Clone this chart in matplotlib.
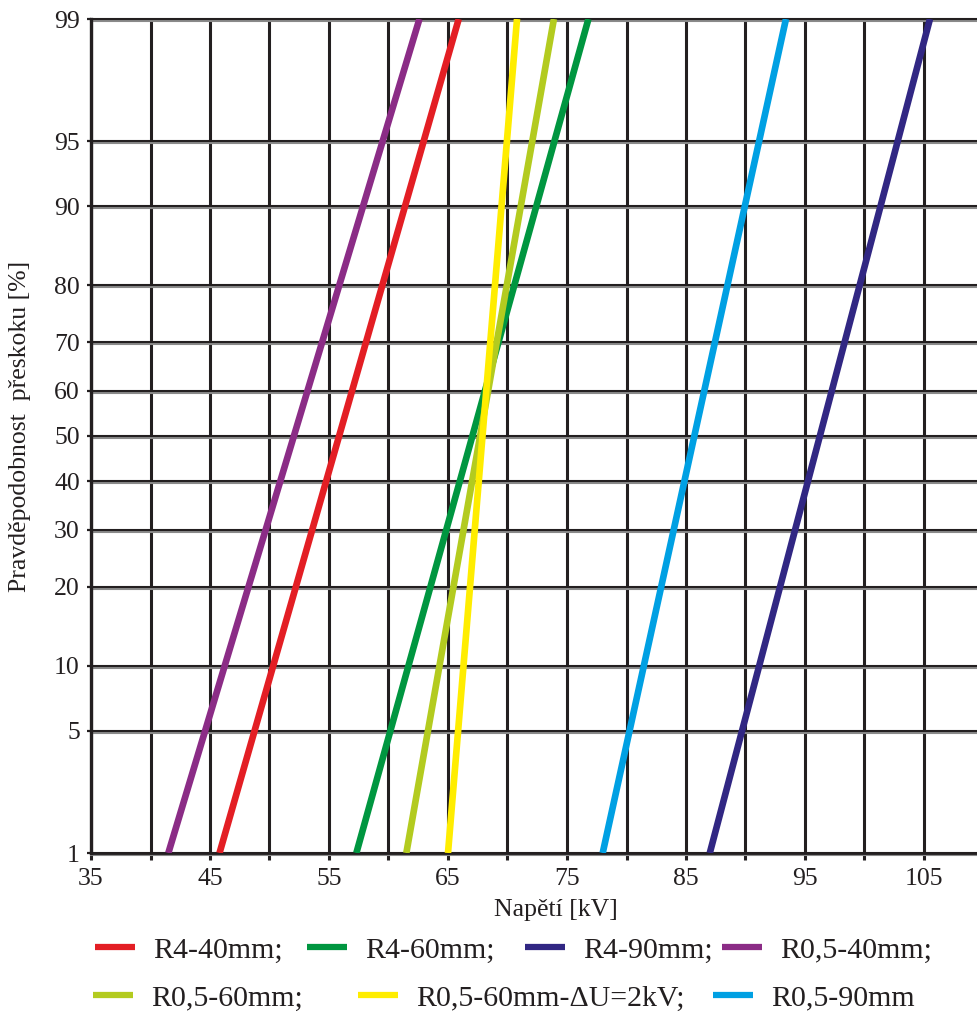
import numpy as np
import matplotlib
matplotlib.use("Agg")
import matplotlib.pyplot as plt
import matplotlib.patheffects as pe
from matplotlib.ticker import FixedLocator, NullLocator
from statistics import NormalDist

plt.rcParams['font.family'] = ['Liberation Serif', 'DejaVu Serif']

# voltage (kV) where each line reaches 1 % and 99 % flashover probability
labels = ['R4-40mm;', 'R4-60mm;', 'R4-90mm;', 'R0,5-40mm;',
          'R0,5-60mm;', 'R0,5-60mm-\u0394U=2kV;', 'R0,5-90mm']
colors = ['#e31e24', '#009640', '#312783', '#8b2c86',
          '#b3cb1f', '#ffed00', '#00a0e3']
u_at_1 = [45.8, 57.3, 87.0, 41.5, 61.5, 65.0, 78.0]
u_at_99 = [65.9, 76.8, 105.5, 62.6, 73.9, 70.8, 93.4]
prob_pts = [1, 99]

prob_ticks = [1, 5, 10, 20, 30, 40, 50, 60, 70, 80, 90, 95, 99]
u_major = [35, 45, 55, 65, 75, 85, 95, 105]
u_minor = [40, 50, 60, 70, 80, 90, 100]

nd = NormalDist()
_ppf = np.vectorize(nd.inv_cdf, otypes=[float])
_cdf = np.vectorize(nd.cdf, otypes=[float])


def fwd(p):
    p = np.clip(np.asarray(p, dtype=float) / 100.0, 1e-9, 1 - 1e-9)
    return _ppf(p)


def inv(z):
    return 100.0 * _cdf(np.asarray(z, dtype=float))


W, H = 978, 1015
fig = plt.figure(figsize=(W / 100, H / 100), dpi=100)
ax = fig.add_axes([91 / W, 1 - 853 / H, 1 - 91 / W, (853 - 19) / H])

for lab, col, u1, u99 in zip(labels, colors, u_at_1, u_at_99):
    ax.plot([u1, u99], prob_pts, color=col, lw=4.8, solid_capstyle='butt',
            label=lab, zorder=3)

ax.set_yscale('function', functions=(fwd, inv))
ax.set_ylim(1, 99)
ax.set_xlim(35, 35 + (W - 91) / 11.9)

ax.yaxis.set_major_locator(FixedLocator(prob_ticks))
ax.yaxis.set_minor_locator(NullLocator())
ax.set_yticklabels([str(t) for t in prob_ticks])
ax.xaxis.set_major_locator(FixedLocator(u_major))
ax.xaxis.set_minor_locator(FixedLocator(u_minor))

dark = '#231f20'
ax.tick_params(axis='both', which='both', direction='out', color=dark,
               labelsize=18.5, labelcolor=dark)
ax.tick_params(axis='x', which='both', length=5, width=2.2, pad=6)
ax.tick_params(axis='y', length=3, width=1.6, pad=5)

ax.grid(axis='x', which='both', color=dark, lw=2.2, zorder=1)
ax.grid(axis='y', which='major', color=dark, lw=1.5, zorder=1)
for gl in ax.yaxis.get_gridlines():
    gl.set_clip_on(False)
    gl.set_path_effects([pe.SimpleLineShadow(offset=(0, -1.4), shadow_color='#8a8a8a', alpha=1),
                         pe.Normal()])
ax.set_axisbelow(True)

for side in ['top', 'right']:
    ax.spines[side].set_visible(False)
ax.spines['left'].set_linewidth(2.4)
ax.spines['left'].set_color(dark)
ax.spines['bottom'].set_linewidth(2.0)
ax.spines['bottom'].set_color(dark)

fig.text(556 / W, 1 - 910 / H, 'Napětí [kV]', ha='center', va='center',
         fontsize=18.5, color=dark)
fig.text(20 / W, 1 - 426 / H, 'Pravděpodobnost  přeskoku [%]', ha='center',
         va='center', rotation=90, fontsize=18.5, color=dark)

# legend: one small legend per entry so the two rows keep their own spacing
leg_x = [95, 307, 525, 722, 93, 358, 713]
leg_y = [950, 950, 950, 950, 998, 998, 998]
for h, lab, lx, ly in zip(ax.get_lines(), labels, leg_x, leg_y):
    lg = fig.legend([h], [lab], loc='center left', bbox_to_anchor=(lx / W, 1 - ly / H),
                    frameon=False, fontsize=21.5, handlelength=1.34, handletextpad=0.6,
                    borderpad=0, borderaxespad=0, labelcolor=dark)
    lg.get_lines()[0].set_linewidth(4.5)

fig.savefig('out.png', dpi=100)
